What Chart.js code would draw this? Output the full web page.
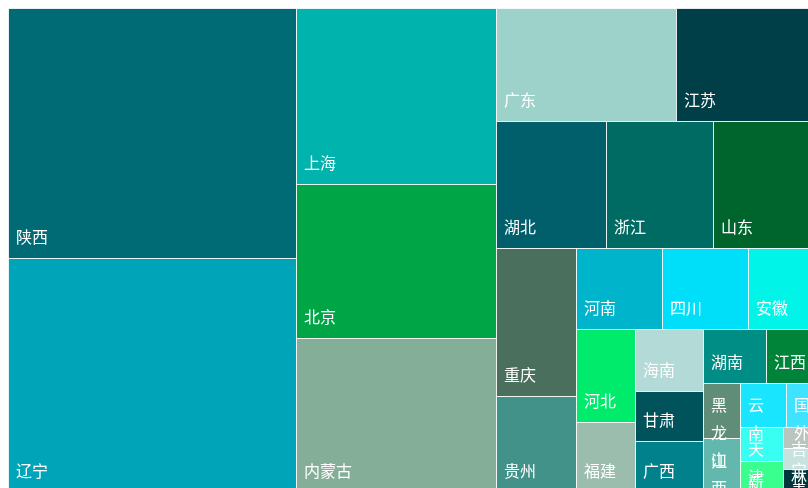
<!DOCTYPE html>
<html>
<head>
<meta charset="utf-8">
<script src="https://cdn.jsdelivr.net/npm/chart.js@4/dist/chart.umd.min.js"></script>
<style>
    html, body { margin: 0; padding: 0; overflow: hidden; background: #fff; }
    #wrap { position: absolute; left: 0; top: 0; width: 818px; height: 492px; }
</style>
</head>
<body>
<div id="wrap"><canvas id="treemapChart" width="818" height="492"></canvas></div>
<script>
// 각 지역 매출 트리맵
const provinces = ['陕西', '辽宁', '上海', '北京', '内蒙古', '广东', '江苏', '湖北', '浙江', '山东',
    '重庆', '贵州', '河南', '四川', '安徽', '河北', '福建', '海南', '甘肃', '广西',
    '湖南', '江西', '黑龙江', '山西', '云南', '国外', '天津', '新疆', '吉林', '宁夏', '青海', '西藏'];
const sales = [72000, 67400, 35100, 30950, 30750, 20290, 16000, 14000, 13730, 13360,
    11770, 7650, 6990, 6920, 5650, 5545, 4180, 4170, 3430, 3425,
    3380, 2790, 2050, 2030, 2000, 1440, 1430, 1330, 730, 725, 600, 225];
const colors = ['#006b74', '#00a4b9', '#00b3ad', '#00a546', '#85ae99', '#9dd2cb', '#003f47', '#005f6b', '#006b62', '#00652c',
    '#4a6f5d', '#42928a', '#00b5cb', '#00dffa', '#00f5e8', '#00eb6c', '#9bbdae', '#b3dad6', '#00535b', '#00818c',
    '#008d86', '#008439', '#5f8d77', '#63b8ae', '#1ae5ff', '#40e3ff', '#38fff2', '#38ff8e', '#b8c6bf', '#c8e3df', '#00363b', '#1c4a4f'];

const areaW = 810;
const areaH = 484;
const squareRatio = 0.9;

// squarify 배치 (d3 방식)
function squarify(nodes, x0, y0, x1, y1, ratio) {
    const out = [];
    let value = nodes.reduce((s, n) => s + n.value, 0);
    let i0 = 0, i1 = 0;
    const n = nodes.length;
    while (i0 < n) {
        const dx = x1 - x0, dy = y1 - y0;
        let sum = nodes[i1++].value;
        let minV = sum, maxV = sum;
        const alpha = Math.max(dy / dx, dx / dy) / (value * ratio);
        let beta = sum * sum * alpha;
        let minRatio = Math.max(maxV / beta, beta / minV);
        for (; i1 < n; i1++) {
            const v = nodes[i1].value;
            sum += v;
            if (v < minV) minV = v;
            if (v > maxV) maxV = v;
            beta = sum * sum * alpha;
            const r = Math.max(maxV / beta, beta / minV);
            if (r > minRatio) { sum -= v; break; }
            minRatio = r;
        }
        const row = nodes.slice(i0, i1);
        if (dx < dy) {
            const h = dy * sum / value;
            let x = x0;
            row.forEach(nd => {
                const w = dx * nd.value / sum;
                out.push(Object.assign({}, nd, { x0: x, y0: y0, x1: x + w, y1: y0 + h }));
                x += w;
            });
            y0 += h;
        } else {
            const w = dx * sum / value;
            let y = y0;
            row.forEach(nd => {
                const h = dy * nd.value / sum;
                out.push(Object.assign({}, nd, { x0: x0, y0: y, x1: x0 + w, y1: y + h }));
                y += h;
            });
            x0 += w;
        }
        value -= sum;
        i0 = i1;
    }
    return out;
}

const treemapPlugin = {
    id: 'treemapCells',
    afterDatasetsDraw(chart) {
        const ctx = chart.ctx;
        const xs = chart.scales.x, ys = chart.scales.y;
        const nodes = provinces.map((name, i) => ({ name: name, value: sales[i], color: colors[i] }))
            .sort((a, b) => b.value - a.value);
        const cells = squarify(nodes, 0, 0, areaW, areaH, squareRatio).map(c => ({
            name: c.name,
            color: c.color,
            left: Math.round(xs.getPixelForValue(c.x0)),
            right: Math.round(xs.getPixelForValue(c.x1)),
            top: Math.round(ys.getPixelForValue(c.y0)),
            bottom: Math.round(ys.getPixelForValue(c.y1))
        }));

        ctx.save();
        cells.forEach(c => {
            ctx.fillStyle = c.color;
            ctx.fillRect(c.left, c.top, c.right - c.left, c.bottom - c.top);
            ctx.strokeStyle = 'rgba(255,255,255,0.9)';
            ctx.lineWidth = 1;
            ctx.strokeRect(c.left + 0.5, c.top + 0.5, c.right - c.left, c.bottom - c.top);
        });

        // 라벨은 모든 셀을 그린 뒤에 (겹침 허용)
        ctx.font = '16px "Noto Sans CJK SC", sans-serif';
        ctx.fillStyle = '#ffffff';
        ctx.textAlign = 'left';
        ctx.textBaseline = 'alphabetic';
        cells.forEach(c => {
            const w = c.right - c.left;
            const avail = w - 16;
            const tx = c.left + 8;
            if (ctx.measureText(c.name).width <= avail) {
                ctx.fillText(c.name, tx, c.bottom - 15);
                return;
            }
            const lines = [];
            let cur = '';
            for (const ch of c.name) {
                if (cur && ctx.measureText(cur + ch).width > avail) {
                    lines.push(cur);
                    cur = ch;
                } else {
                    cur += ch;
                }
            }
            if (cur) lines.push(cur);
            lines.forEach((ln, k) => ctx.fillText(ln, tx, c.top + 28 + k * 28));
        });
        ctx.restore();
    }
};

new Chart(document.getElementById('treemapChart'), {
    type: 'scatter',
    data: { datasets: [{ data: [] }] },
    options: {
        responsive: false,
        animation: false,
        layout: { padding: { left: 8, top: 8, right: 0, bottom: 0 } },
        plugins: { legend: { display: false }, tooltip: { enabled: false } },
        scales: {
            x: { type: 'linear', min: 0, max: areaW, display: false },
            y: { type: 'linear', min: 0, max: areaH, reverse: true, display: false }
        }
    },
    plugins: [treemapPlugin]
});
</script>
</body>
</html>
